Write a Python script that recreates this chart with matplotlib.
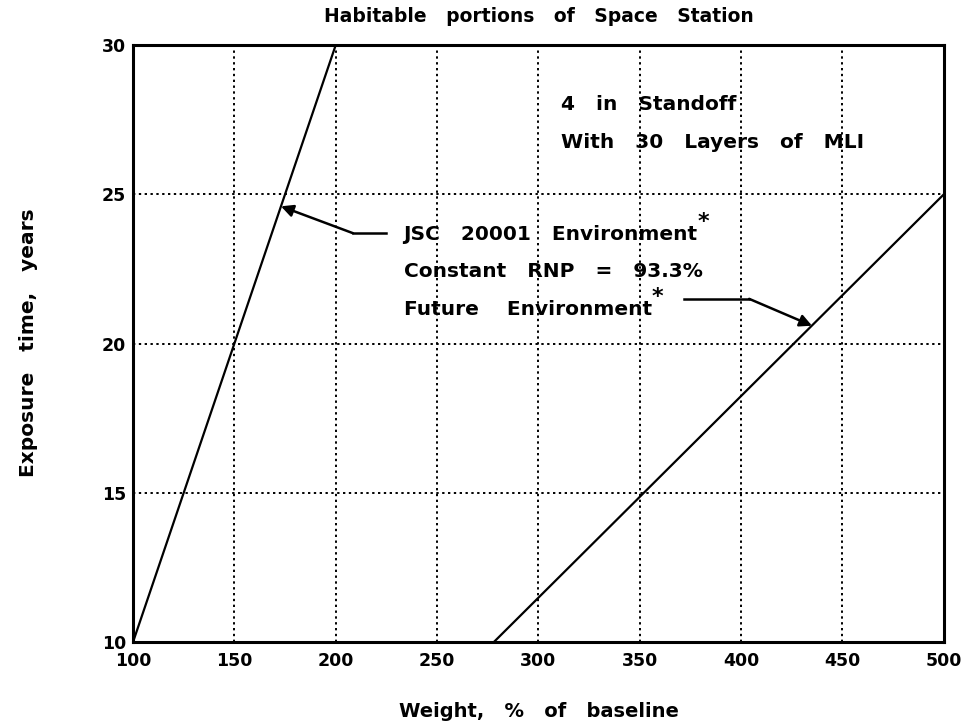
import matplotlib
matplotlib.use("Agg")
import matplotlib.pyplot as plt

# exposure time vs weight, two environments
jsc_weight = [100, 200]
jsc_years = [10, 30]
future_weight = [278, 500]
future_years = [10, 25]

x_ticks = [100, 150, 200, 250, 300, 350, 400, 450, 500]
y_ticks = [10, 15, 20, 25, 30]

plt.rcParams['font.family'] = ['DejaVu Sans']
plt.rcParams['font.weight'] = 'bold'

fig = plt.figure(figsize=(9.78, 7.28), dpi=100)
ax = fig.add_axes([0.136, 0.118, 0.829, 0.820])

ax.plot(jsc_weight, jsc_years, color='black', lw=1.6, zorder=3)
ax.plot(future_weight, future_years, color='black', lw=1.6, zorder=3)

ax.set_xlim(100, 500)
ax.set_ylim(10, 30)
ax.set_xticks(x_ticks)
ax.set_yticks(y_ticks)
ax.tick_params(length=0, labelsize=12.5)
ax.tick_params(axis='x', pad=7)
ax.tick_params(axis='y', pad=5)
for lab in ax.get_xticklabels() + ax.get_yticklabels():
    lab.set_fontweight('bold')

# dotted grid, inner lines only
for xv in x_ticks[1:-1]:
    ax.axvline(xv, color='black', lw=1.4, ls=(0, (1.2, 1.8)), zorder=1)
for yv in y_ticks[1:-1]:
    ax.axhline(yv, color='black', lw=1.4, ls=(0, (1.2, 1.8)), zorder=1)

for sp in ax.spines.values():
    sp.set_linewidth(2.2)

fs = 14.5
ax.text(311, 28.0, "4   in   Standoff", fontsize=fs, fontweight='bold', va='center')
ax.text(311, 26.75, "With   30   Layers   of   MLI", fontsize=fs, fontweight='bold', va='center')

jsc_txt = ax.text(233.5, 23.65, "JSC   20001   Environment", fontsize=fs,
                  fontweight='bold', va='center')
ax.text(233.5, 22.4, "Constant   RNP   =   93.3%", fontsize=fs, fontweight='bold', va='center')
fut_txt = ax.text(233.5, 21.15, "Future    Environment", fontsize=fs,
                  fontweight='bold', va='center')

# superscript stars right after "Environment"
for t in (jsc_txt, fut_txt):
    ax.annotate("*", xy=(1, 1), xycoords=t, xytext=(0, 2), textcoords='offset points',
                fontsize=16, fontweight='bold', ha='left', va='center')

# arrows
ax.annotate("", xy=(173, 24.6), xytext=(208.5, 23.7),
            arrowprops=dict(arrowstyle='-|>', color='black', lw=1.8,
                            mutation_scale=18, shrinkA=0, shrinkB=0))
ax.plot([208.5, 225], [23.7, 23.7], color='black', lw=1.8)

ax.plot([372, 404], [21.5, 21.5], color='black', lw=1.8)
ax.annotate("", xy=(435, 20.6), xytext=(404, 21.5),
            arrowprops=dict(arrowstyle='-|>', color='black', lw=1.8,
                            mutation_scale=18, shrinkA=0, shrinkB=0))

fig.text(0.551, 0.978, "Habitable   portions   of   Space   Station", fontsize=13.5,
         fontweight='bold', ha='center', va='center')
fig.text(0.551, 0.022, "Weight,   %   of   baseline", fontsize=14,
         fontweight='bold', ha='center', va='center')
fig.text(0.029, 0.529, "Exposure   time,   years", fontsize=14.5,
         fontweight='bold', ha='center', va='center', rotation=90)

fig.savefig("out.png", dpi=100)
